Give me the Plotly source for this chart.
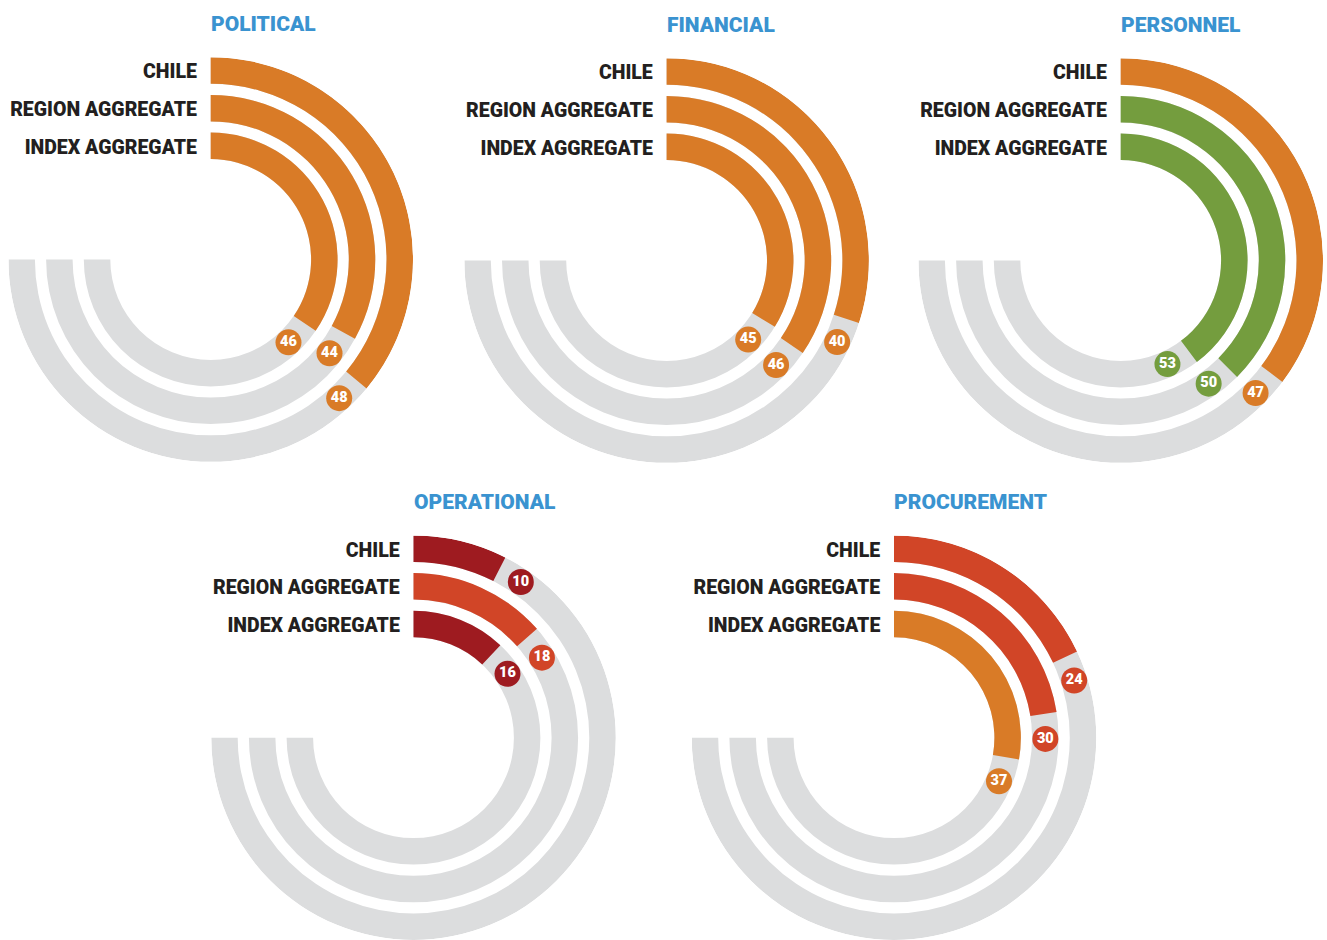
import math
import plotly.graph_objects as go

# ---------------- data ----------------
categories = ["POLITICAL", "FINANCIAL", "PERSONNEL", "OPERATIONAL", "PROCUREMENT"]
series_names = ["CHILE", "REGION AGGREGATE", "INDEX AGGREGATE"]
chile_values = [48, 40, 47, 10, 24]
region_values = [44, 46, 50, 18, 30]
index_values = [46, 45, 53, 16, 37]

# ---------------- style / layout ----------------
W, H = 1327, 940
R = 202.3                      # outer radius in px (radial axis units = px)
THICK = 26.5                   # ring thickness
PITCH = 37.7                   # distance between ring starts
SCALE = 2.7                    # degrees per index point (100 -> 270 deg)
BADGE_ARC = 25                 # px along the arc from bar end to badge centre
LABEL_GAP = 14                 # px left of vertical centre line
LABEL_DROP = 2.5               # px the label baseline sits below ring middle
centers = [(210.7, 259.5), (666.6, 260.5), (1120.7, 260.5), (413.5, 737.7), (894.0, 737.7)]

GRAY = "#DCDDDE"
BLUE = "#3A93D0"
TEXT = "#231F20"
FONT = "Roboto, sans-serif"


def band_color(v):
    if v < 17:
        return "#9E1B20"
    if v < 33:
        return "#D14527"
    if v < 50:
        return "#D97B27"
    return "#749D3E"


outer = [R - k * PITCH for k in range(3)]
inner = [o - THICK for o in outer]
mids = [o - THICK / 2 for o in outer]

fig = go.Figure()
layout_polars = {}
annotations = []

for i, cat in enumerate(categories):
    pid = "polar" if i == 0 else f"polar{i + 1}"
    cx, cy = centers[i]
    vals = [chile_values[i], region_values[i], index_values[i]]
    cols = [band_color(v) for v in vals]

    # grey background tracks (270 degrees)
    fig.add_trace(go.Barpolar(
        r=[THICK] * 3, base=inner, theta=[135] * 3, width=[270] * 3,
        marker=dict(color=GRAY, line=dict(width=0)),
        subplot=pid, hoverinfo="skip", showlegend=False))
    # value arcs
    fig.add_trace(go.Barpolar(
        r=[THICK] * 3, base=inner,
        theta=[v * SCALE / 2 for v in vals], width=[v * SCALE for v in vals],
        marker=dict(color=cols, line=dict(width=0)),
        subplot=pid, hoverinfo="skip", showlegend=False))
    # series labels
    fig.add_trace(go.Scatterpolar(
        r=[m - LABEL_DROP for m in mids],
        theta=[-math.degrees(math.asin(LABEL_GAP / m)) for m in mids],
        mode="text", text=series_names, textposition="middle left",
        textfont=dict(family=FONT, size=19.5, color=TEXT, weight=900),
        cliponaxis=False, subplot=pid, hoverinfo="skip", showlegend=False))
    # value badges
    fig.add_trace(go.Scatterpolar(
        r=mids,
        theta=[v * SCALE + math.degrees(BADGE_ARC / m) for v, m in zip(vals, mids)],
        mode="markers+text", text=[str(v) for v in vals], textposition="middle center",
        marker=dict(size=26, color=cols, line=dict(width=0)),
        textfont=dict(family=FONT, size=14.5, color="white", weight=900),
        cliponaxis=False, subplot=pid, hoverinfo="skip", showlegend=False))

    layout_polars[pid] = dict(
        domain=dict(x=[(cx - R) / W, (cx + R) / W],
                    y=[max(0.0, 1 - (cy + R) / H), min(1.0, 1 - (cy - R) / H)]),
        radialaxis=dict(range=[0, R], visible=False, showgrid=False, showline=False),
        angularaxis=dict(rotation=90, direction="clockwise", visible=False,
                         showgrid=False, showline=False),
        bgcolor="rgba(0,0,0,0)", hole=0)

    annotations.append(dict(
        text=cat, x=(cx - 2) / W, y=1 - (cy - 236) / H, xref="paper", yref="paper",
        xanchor="left", yanchor="middle", showarrow=False,
        font=dict(family=FONT, size=21, color=BLUE, weight=900)))

fig.update_layout(
    width=W, height=H, margin=dict(l=0, r=0, t=0, b=0),
    paper_bgcolor="white", plot_bgcolor="white",
    showlegend=False, annotations=annotations, **layout_polars)

fig.write_html("out.html", config={"displayModeBar": False},
               post_script="document.body.style.margin='0';document.body.style.overflow='hidden';")
